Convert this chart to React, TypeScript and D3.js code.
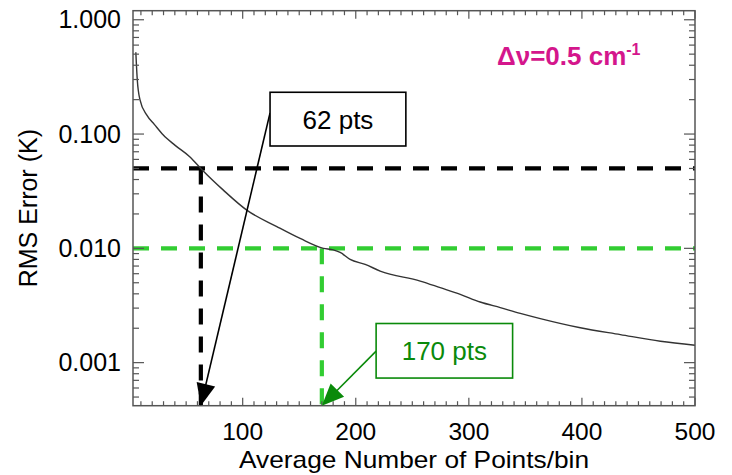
import React from "react";
import * as d3 from "d3";

// ---- data ----
const curveX = [5.5, 6.8, 9.2, 15.1, 22, 29.8, 40, 53.4, 63.8, 82.9, 103.6, 130.2, 150.8, 171.4, 180, 186.2, 195, 208.3, 221.6, 257, 274.7, 292.4, 310, 327.8, 345.5, 363.2, 398.6, 434, 469.4, 500];
const curveY = [0.52, 0.297, 0.199, 0.147, 0.121, 0.098, 0.080, 0.063, 0.049, 0.0323, 0.0216, 0.0155, 0.0122, 0.0100, 0.0097, 0.0092, 0.0080, 0.00724, 0.00633, 0.00517, 0.00453, 0.00396, 0.00339, 0.00303, 0.0027, 0.00243, 0.00202, 0.00176, 0.00154, 0.00142];

const xDomain = [3, 500];
const yDomain = [0.00042, 1.2];
const xMajorTicks = [100, 200, 300, 400, 500];
const yMajorTicks = [1, 0.1, 0.01, 0.001];
const yTickLabels = ["1.000", "0.100", "0.010", "0.001"];

// threshold lines: [rms level, points]
const thresholdLevels = [0.05, 0.01];
const thresholdPoints = [63, 170];
const thresholdColors = ["#000000", "#32cd32"];

// annotations
const annotTexts = ["62 pts", "170 pts"];
const annotColors = ["#000000", "#0a8a0a"];
const annotBoxX = [[124.2, 244.3], [218, 338.7]];
const annotBoxY = [[0.232, 0.0786], [0.0022, 0.000733]];
const annotArrowFrom = [[124.2, 0.153], [218, 0.00126]];

const xAxisTitle = "Average Number of Points/bin";
const yAxisTitle = "RMS Error (K)";

const FONT = "'Liberation Sans', Arial, Helvetica, sans-serif";

export default function App() {
  const W = 732, H = 475;
  const L = 133, R = 695, T = 10.7, B = 405.7;
  const x = d3.scaleLinear().domain(xDomain).range([L, R]);
  const y = d3.scaleLog().domain(yDomain).range([B, T]);

  const xMinor = d3.range(10, 500, 10).filter((v) => v % 100 !== 0);
  const yMinor: number[] = [];
  for (let e = -4; e <= 0; e++) {
    for (let k = 2; k <= 9; k++) {
      const v = k * Math.pow(10, e);
      if (v >= yDomain[0] && v <= yDomain[1]) yMinor.push(v);
    }
  }

  const line = d3
    .line<number>()
    .x((_, i) => x(curveX[i]))
    .y((d) => y(d))
    .curve(d3.curveMonotoneX);

  const axisColor = "#555";

  const arrowHead = (sx: number, sy: number, tx: number, ty: number, len: number, hw: number) => {
    const dx = tx - sx, dy = ty - sy;
    const l = Math.hypot(dx, dy);
    const ux = dx / l, uy = dy / l;
    const bx = tx - ux * len, by = ty - uy * len;
    const nx = -uy, ny = ux;
    return `${tx},${ty} ${bx + nx * hw},${by + ny * hw} ${bx - nx * hw},${by - ny * hw}`;
  };

  return (
    <svg width={W} height={H} style={{ position: "absolute", left: 0, top: 0, background: "#fff" }} fontFamily={FONT}>
      <rect x={0} y={0} width={W} height={H} fill="#fff" />
      {/* threshold dashed lines */}
      {thresholdLevels.map((lv, i) => (
        <g key={"th" + i}>
          <line x1={x(xDomain[0])} x2={x(xDomain[1])} y1={y(lv)} y2={y(lv)} stroke={thresholdColors[i]} strokeWidth={4.2} strokeDasharray="16 12" />
          <line x1={x(thresholdPoints[i])} x2={x(thresholdPoints[i])} y1={y(lv)} y2={y(yDomain[0])} stroke={thresholdColors[i]} strokeWidth={4.2} strokeDasharray="16 12" />
        </g>
      ))}
      {/* curve */}
      <path d={line(curveY) || ""} fill="none" stroke="#333" strokeWidth={1.4} />
      {/* frame */}
      <rect x={L} y={T} width={R - L} height={B - T} fill="none" stroke={axisColor} strokeWidth={1.5} />
      {/* x ticks */}
      {xMajorTicks.map((v) => (
        <g key={"xm" + v}>
          <line x1={x(v)} x2={x(v)} y1={B} y2={B - 8} stroke={axisColor} strokeWidth={1.2} />
          <line x1={x(v)} x2={x(v)} y1={T} y2={T + 8} stroke={axisColor} strokeWidth={1.2} />
          <text x={x(v)} y={440} textAnchor="middle" fontSize={24.5} fill="#000">{v}</text>
        </g>
      ))}
      {xMinor.map((v) => (
        <g key={"xn" + v}>
          <line x1={x(v)} x2={x(v)} y1={B} y2={B - 4.5} stroke={axisColor} strokeWidth={1.2} />
          <line x1={x(v)} x2={x(v)} y1={T} y2={T + 4.5} stroke={axisColor} strokeWidth={1.2} />
        </g>
      ))}
      {/* y ticks */}
      {yMajorTicks.map((v, i) => (
        <g key={"ym" + v}>
          <line x1={L} x2={L + 11} y1={y(v)} y2={y(v)} stroke={axisColor} strokeWidth={1.2} />
          <line x1={R} x2={R - 11} y1={y(v)} y2={y(v)} stroke={axisColor} strokeWidth={1.2} />
          <text x={121} y={y(v) + 8.6} textAnchor="end" fontSize={25} fill="#000">{yTickLabels[i]}</text>
        </g>
      ))}
      {yMinor.map((v) => (
        <g key={"yn" + v}>
          <line x1={L} x2={L + 6} y1={y(v)} y2={y(v)} stroke={axisColor} strokeWidth={1.2} />
          <line x1={R} x2={R - 6} y1={y(v)} y2={y(v)} stroke={axisColor} strokeWidth={1.2} />
        </g>
      ))}
      {/* axis titles */}
      <text x={(L + R) / 2} y={468} textAnchor="middle" fontSize={24} textLength={350} lengthAdjust="spacingAndGlyphs" fill="#000">{xAxisTitle}</text>
      <text transform={`translate(37,${(T + B) / 2}) rotate(-90)`} textAnchor="middle" fontSize={25} fill="#000">{yAxisTitle}</text>
      {/* magenta label */}
      <text x={497} y={65} fontSize={26} fontWeight="bold" fill="#d4168c">
        Δν=0.5 cm<tspan fontSize={16} dy={-10}>-1</tspan>
      </text>
      {/* annotations */}
      {annotTexts.map((t, i) => {
        const bx0 = x(annotBoxX[i][0]), bx1 = x(annotBoxX[i][1]);
        const by0 = y(annotBoxY[i][0]), by1 = y(annotBoxY[i][1]);
        const sx = x(annotArrowFrom[i][0]), sy = y(annotArrowFrom[i][1]);
        const tx = x(thresholdPoints[i]), ty = y(yDomain[0]);
        const head = arrowHead(sx, sy, tx, ty, 22, 9.5);
        const dx = tx - sx, dy = ty - sy, l = Math.hypot(dx, dy);
        return (
          <g key={"an" + i}>
            <line x1={sx} y1={sy} x2={tx - (dx / l) * 18} y2={ty - (dy / l) * 18} stroke={annotColors[i]} strokeWidth={1.6} />
            <polygon points={head} fill={annotColors[i]} />
            <rect x={bx0} y={by0} width={bx1 - bx0} height={by1 - by0} fill="#fff" stroke={annotColors[i]} strokeWidth={1.6} />
            <text x={(bx0 + bx1) / 2} y={(by0 + by1) / 2 + 9.5} textAnchor="middle" fontSize={26} fill={annotColors[i]}>{t}</text>
          </g>
        );
      })}
    </svg>
  );
}
